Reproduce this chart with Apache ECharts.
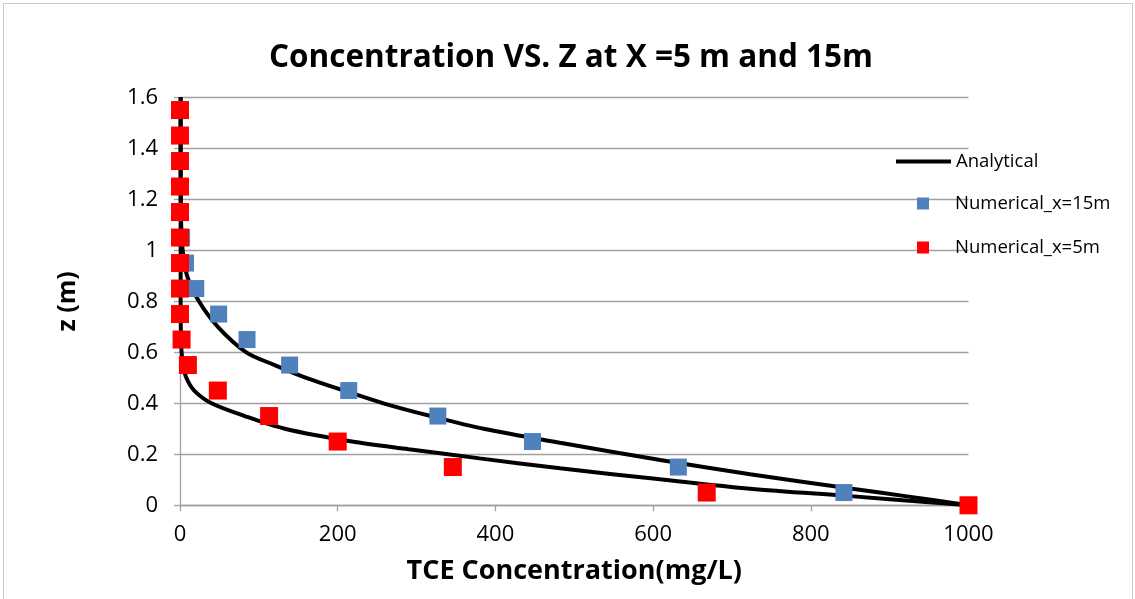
<!DOCTYPE html>
<html>
<head>
<meta charset="utf-8">
<script src="https://cdn.jsdelivr.net/npm/echarts@6/dist/echarts.min.js"></script>
<style>
  html, body { margin: 0; padding: 0; background: #fff; }
  #chart { width: 1135px; height: 599px; }
</style>
</head>
<body>
<div id="chart"></div>
<script>
// Depth levels (m) of the numerical cells
const zCells = [0, 0.05, 0.15, 0.25, 0.35, 0.45, 0.55, 0.65, 0.75, 0.85, 0.95, 1.05, 1.15, 1.25, 1.35, 1.45, 1.55];
// Numerical TCE concentration (mg/L) at x = 15 m
const numX15 = [1000, 842, 632, 447, 327, 214, 139, 85, 49, 20, 7, 2, 0.5, 0, 0, 0, 0];
// Numerical TCE concentration (mg/L) at x = 5 m
const numX5 = [1000, 668, 346, 200, 113, 48, 10, 2, 0, 0, 0, 0, 0, 0, 0, 0, 0];

// Analytical profile at x = 15 m
const anaZ15 = [0, 0.036, 0.066, 0.122, 0.178, 0.245, 0.3, 0.35, 0.4, 0.45, 0.5, 0.55, 0.6, 0.7, 0.8, 0.9, 1.0, 1.1, 1.2, 1.4, 1.6];
const anaC15 = [1000, 920, 850, 723, 609, 482, 385, 318, 258, 208, 160, 120, 84, 48, 24, 9, 3.4, 1.5, 1, 0.8, 0.8];
// Analytical profile at x = 5 m
const anaZ5 = [0, 0.012, 0.036, 0.065, 0.102, 0.145, 0.184, 0.22, 0.25, 0.3, 0.35, 0.4, 0.45, 0.5, 0.55, 0.6, 0.7, 0.8, 1.0, 1.2, 1.4, 1.6];
const anaC5 = [1000, 950, 850, 723, 609, 482, 380, 290, 218, 133, 82, 40, 18, 8, 4, 2, 1, 0.8, 0.8, 0.8, 0.8, 0.8];

// Axis ranges
const xRange = { min: 0, max: 1000, step: 200 };
const zRange = { min: 0, max: 1.6, step: 0.2 };

const pairs = (xs, ys) => xs.map((x, i) => [x, ys[i]]);

const FONT = '"Open Sans", "Noto Sans", sans-serif';
const GRID_GREY = '#a0a0a0';

const chart = echarts.init(document.getElementById('chart'), null, { renderer: 'canvas' });

const analyticalStyle = {
  type: 'line',
  name: 'Analytical',
  symbol: 'none',
  smooth: 0.3,
  z: 2,
  lineStyle: { color: '#000', width: 4 },
  itemStyle: { color: '#000' }
};

chart.setOption({
  backgroundColor: '#fff',
  animation: false,
  textStyle: { fontFamily: FONT },
  title: {
    text: 'Concentration VS. Z at X =5 m and 15m',
    left: 566, top: 37, textAlign: 'center',
    textStyle: { fontFamily: FONT, fontWeight: 'bold', fontSize: 31.5, color: '#000' }
  },
  graphic: [{
    type: 'rect',
    shape: { x: 3.5, y: 3.5, width: 1129, height: 610 },
    style: { fill: 'none', stroke: '#c8c8c8', lineWidth: 1 },
    silent: true, z: -1
  }],
  grid: { left: 180, right: 166.5, top: 97.3, bottom: 93.7 },
  xAxis: {
    type: 'value',
    min: xRange.min, max: xRange.max, interval: xRange.step,
    name: 'TCE Concentration(mg/L)',
    nameLocation: 'middle', nameGap: 53,
    nameTextStyle: { fontFamily: FONT, fontWeight: 'bold', fontSize: 27, color: '#000' },
    axisLine: { show: true, lineStyle: { color: GRID_GREY, width: 1.3 } },
    axisTick: { show: true, length: 6, lineStyle: { color: GRID_GREY, width: 1.3 } },
    axisLabel: { fontFamily: FONT, fontSize: 22, color: '#000', margin: 18, formatter: v => String(v) },
    splitLine: { show: false }
  },
  yAxis: {
    type: 'value',
    min: zRange.min, max: zRange.max, interval: zRange.step,
    name: 'z (m)',
    nameLocation: 'middle', nameGap: 100, nameRotate: 90,
    nameTextStyle: { fontFamily: FONT, fontWeight: 'bold', fontSize: 25, color: '#000' },
    axisLine: { show: true, lineStyle: { color: GRID_GREY, width: 1.3 } },
    axisTick: { show: true, length: 6, lineStyle: { color: GRID_GREY, width: 1.3 } },
    axisLabel: { fontFamily: FONT, fontSize: 22, color: '#000', margin: 22 },
    splitLine: { show: true, lineStyle: { color: GRID_GREY, width: 1.3 } }
  },
  legend: [
    {
      data: [{ name: 'Analytical', icon: 'path://M0,0H55V4H0Z' }],
      left: 891, top: 147,
      itemWidth: 55, itemHeight: 4,
      textStyle: { fontFamily: FONT, fontSize: 18.5, color: '#000' }
    },
    {
      data: [{ name: 'Numerical_x=15m', icon: 'rect' }],
      left: 912, top: 189,
      itemWidth: 12, itemHeight: 12,
      textStyle: { fontFamily: FONT, fontSize: 18.5, color: '#000', padding: [0, 0, 0, 21] }
    },
    {
      data: [{ name: 'Numerical_x=5m', icon: 'rect' }],
      left: 912, top: 233,
      itemWidth: 12, itemHeight: 12,
      textStyle: { fontFamily: FONT, fontSize: 18.5, color: '#000', padding: [0, 0, 0, 21] }
    }
  ],
  series: [
    Object.assign({}, analyticalStyle, { data: pairs(anaC15, anaZ15) }),
    Object.assign({}, analyticalStyle, { data: pairs(anaC5, anaZ5) }),
    {
      type: 'scatter',
      name: 'Numerical_x=15m',
      symbol: 'rect', symbolSize: 17,
      z: 3,
      itemStyle: { color: '#4f81bd', opacity: 1 },
      data: pairs(numX15, zCells)
    },
    {
      type: 'scatter',
      name: 'Numerical_x=5m',
      symbol: 'rect', symbolSize: 18,
      z: 4,
      itemStyle: { color: '#ff0000', opacity: 1 },
      data: pairs(numX5, zCells)
    }
  ]
});
</script>
</body>
</html>
